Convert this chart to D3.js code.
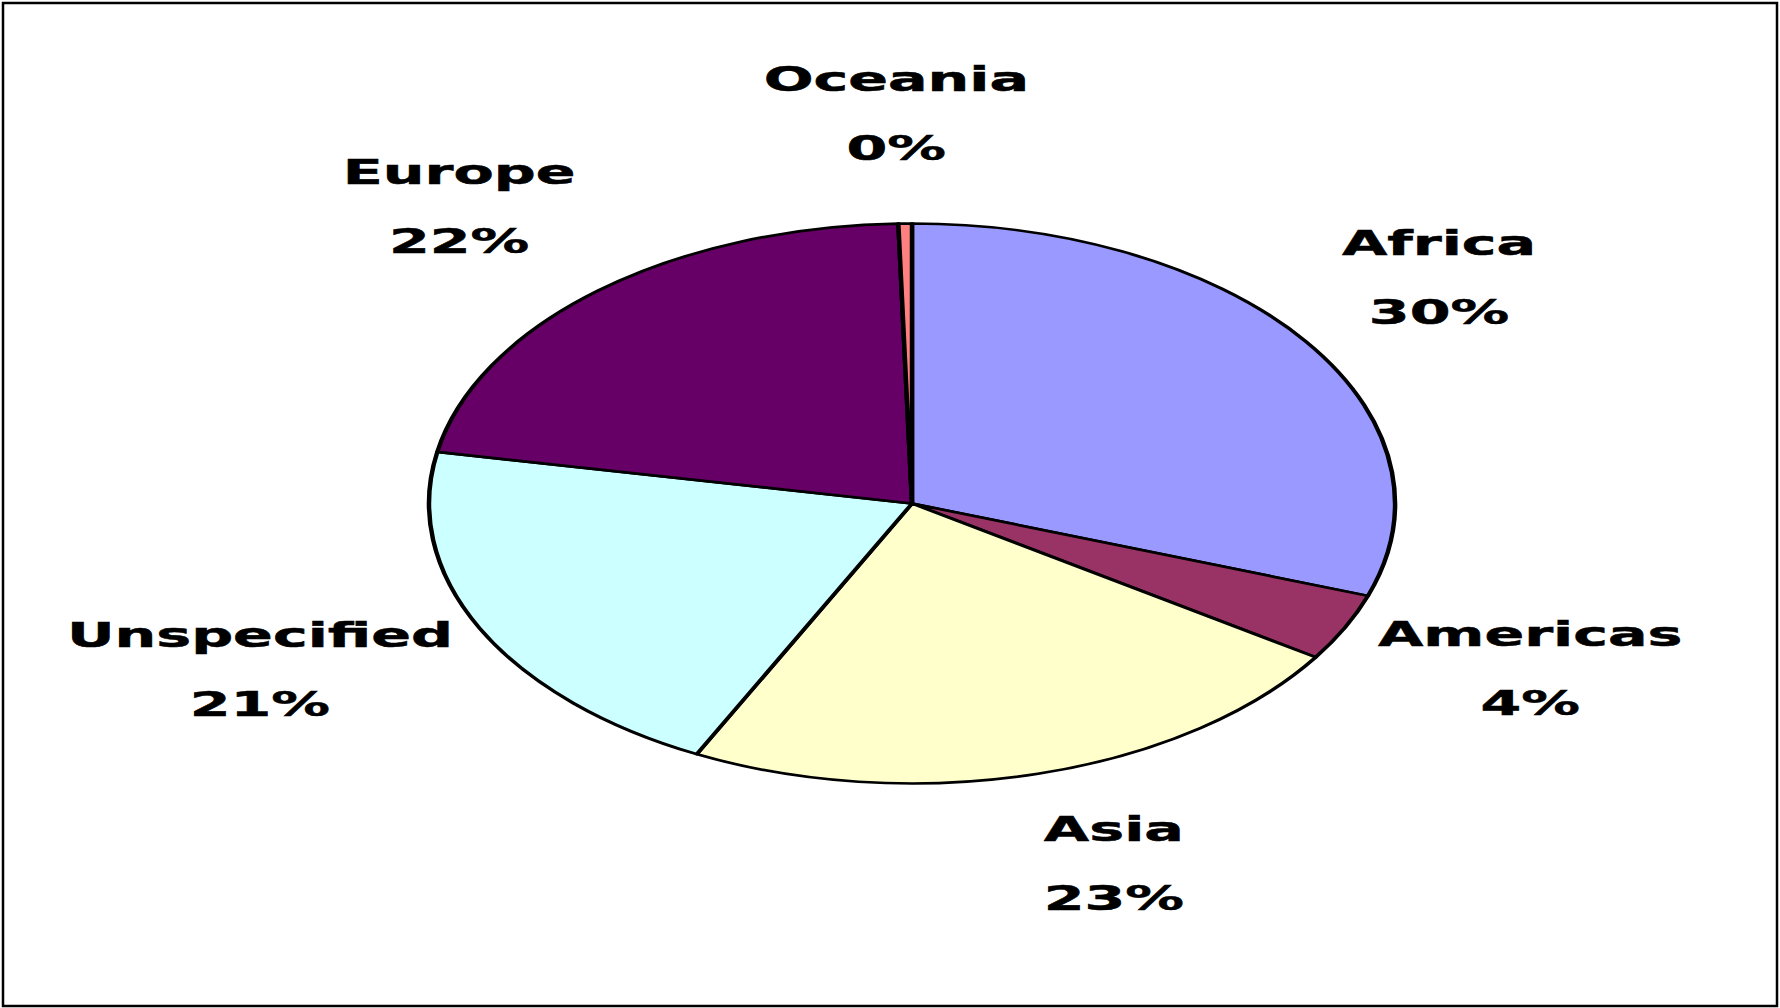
<!DOCTYPE html>
<html>
<head>
<meta charset="utf-8">
<script src="https://cdn.jsdelivr.net/npm/d3@7"></script>
<style>
body{margin:0;background:#fff;}
</style>
</head>
<body>
<div id="chart"></div>
<script>
var regions = ["Africa","Americas","Asia","Unspecified","Europe","Oceania"];
var shares = [30.35, 3.9, 23.1, 20.6, 21.6, 0.45];
var colours = ["#9999ff","#993366","#ffffcc","#ccffff","#660066","#ff8080"];

var W = 1780, H = 1008;
var sx = 1.725;   // whole chart is stretched sideways
var r = 280, cx = 912/sx, cy = 503.5;

var svg = d3.select("#chart").append("svg")
    .attr("width", W)
    .attr("height", H);

svg.append("rect")
    .attr("x", 3).attr("y", 3)
    .attr("width", 1774).attr("height", 1003)
    .style("fill", "#fff")
    .style("stroke", "#000")
    .style("stroke-width", 2.5);

var g = svg.append("g").attr("transform", "scale(" + sx + ",1)");

var pie = d3.pie().sort(null).value(function(d){return d;});
var arcs = pie(shares);
var arc = d3.arc().innerRadius(0).outerRadius(r);
var total = d3.sum(shares);

var pg = g.append("g").attr("transform", "translate(" + cx + "," + cy + ")");

pg.selectAll("path")
    .data(arcs)
    .enter().append("path")
    .attr("d", arc)
    .style("fill", function(d,i){return colours[i];})
    .style("stroke", "#000")
    .style("stroke-width", 2.6)
    .style("stroke-linejoin", "round");

var lab = pg.selectAll("g.lab")
    .data(arcs)
    .enter().append("g")
    .attr("class", "lab");

lab.append("text").text(function(d,i){return regions[i];});
lab.append("text").attr("y", 69).text(function(d){return Math.round(d.value/total*100) + "%";});

lab.selectAll("text")
    .attr("text-anchor", "middle")
    .style("font-family", "'DejaVu Sans'")
    .style("font-weight", "bold")
    .style("font-size", "34px")
    .style("fill", "#000")
    .style("stroke", "#000")
    .style("stroke-width", 0.5);

// label box sits outside the pie along the slice's middle angle
lab.attr("transform", function(d){
    var a = (d.startAngle + d.endAngle)/2;
    var s = Math.sin(a), c = Math.cos(a);
    var hw = d3.max(d3.select(this).selectAll("text").nodes(), function(n){return n.getComputedTextLength();})/2;
    var side = Math.max(-1, Math.min(1, s*5));
    var x = s*316 + side*0.85*hw;
    var y = -c*(c > 0 ? 391 : 372);
    return "translate(" + x + "," + (y - 22) + ")";
});
</script>
</body>
</html>
